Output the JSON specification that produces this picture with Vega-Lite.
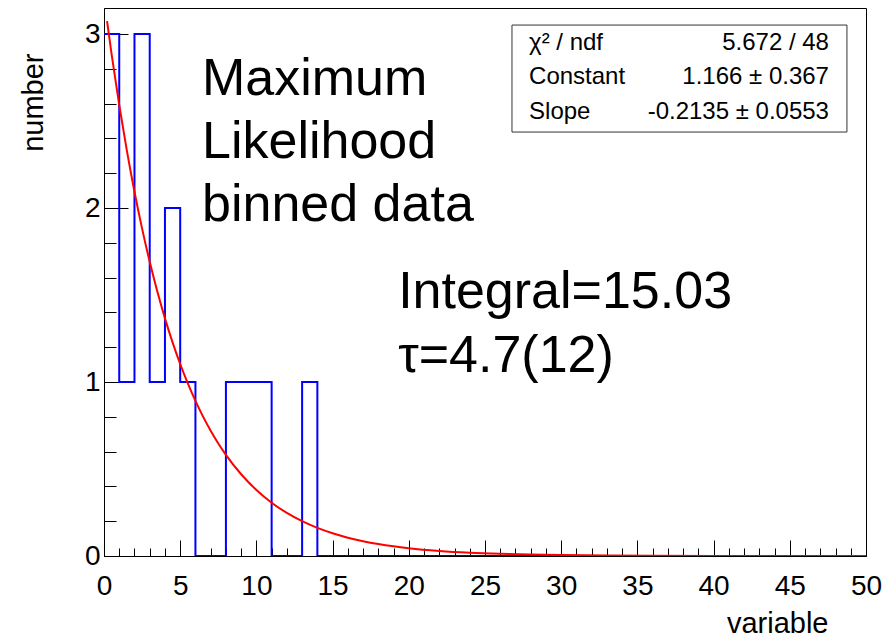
{
  "$schema": "https://vega.github.io/schema/vega-lite/v6.json",
  "width": 762,
  "height": 548,
  "autosize": {"type": "none"},
  "padding": {"left": 104, "top": 8, "right": 22, "bottom": 86},
  "background": "white",
  "config": {
    "view": {"stroke": "#000000", "strokeWidth": 1},
    "font": "Liberation Sans",
    "axis": {"domainColor": "#000000", "tickColor": "#000000", "labelColor": "#000000", "titleColor": "#000000", "labelFont": "Liberation Sans", "titleFont": "Liberation Sans", "titleFontWeight": "normal", "grid": false}
  },
  "datasets": {
    "hist": [
      {"x": 0, "y": 3}, {"x": 1, "y": 1}, {"x": 2, "y": 3}, {"x": 3, "y": 1}, {"x": 4, "y": 2},
      {"x": 5, "y": 1}, {"x": 6, "y": 0}, {"x": 7, "y": 0}, {"x": 8, "y": 1}, {"x": 9, "y": 1},
      {"x": 10, "y": 1}, {"x": 11, "y": 0}, {"x": 12, "y": 0}, {"x": 13, "y": 1}, {"x": 14, "y": 0},
      {"x": 15, "y": 0}, {"x": 16, "y": 0}, {"x": 17, "y": 0}, {"x": 18, "y": 0}, {"x": 19, "y": 0},
      {"x": 20, "y": 0}, {"x": 21, "y": 0}, {"x": 22, "y": 0}, {"x": 23, "y": 0}, {"x": 24, "y": 0},
      {"x": 25, "y": 0}, {"x": 26, "y": 0}, {"x": 27, "y": 0}, {"x": 28, "y": 0}, {"x": 29, "y": 0},
      {"x": 30, "y": 0}, {"x": 31, "y": 0}, {"x": 32, "y": 0}, {"x": 33, "y": 0}, {"x": 34, "y": 0},
      {"x": 35, "y": 0}, {"x": 36, "y": 0}, {"x": 37, "y": 0}, {"x": 38, "y": 0}, {"x": 39, "y": 0},
      {"x": 40, "y": 0}, {"x": 41, "y": 0}, {"x": 42, "y": 0}, {"x": 43, "y": 0}, {"x": 44, "y": 0},
      {"x": 45, "y": 0}, {"x": 46, "y": 0}, {"x": 47, "y": 0}, {"x": 48, "y": 0}, {"x": 49, "y": 0},
      {"x": 50, "y": 0}
    ],
    "fit": [
      {"x": 0.2, "y": 3.075}, {"x": 0.5, "y": 2.884}, {"x": 1, "y": 2.592}, {"x": 1.5, "y": 2.330}, {"x": 2, "y": 2.094},
      {"x": 2.5, "y": 1.882}, {"x": 3, "y": 1.691}, {"x": 3.5, "y": 1.520}, {"x": 4, "y": 1.366}, {"x": 4.5, "y": 1.228},
      {"x": 5, "y": 1.1035}, {"x": 5.5, "y": 0.9918}, {"x": 6, "y": 0.8914}, {"x": 6.5, "y": 0.8011}, {"x": 7, "y": 0.7200},
      {"x": 7.5, "y": 0.6471}, {"x": 8, "y": 0.5816}, {"x": 9, "y": 0.4698}, {"x": 10, "y": 0.3795}, {"x": 11, "y": 0.3065},
      {"x": 12, "y": 0.2476}, {"x": 13, "y": 0.2000}, {"x": 14, "y": 0.1615}, {"x": 15, "y": 0.1305}, {"x": 16, "y": 0.1054},
      {"x": 17, "y": 0.0851}, {"x": 18, "y": 0.0688}, {"x": 19, "y": 0.0556}, {"x": 20, "y": 0.0449}, {"x": 22, "y": 0.0293},
      {"x": 24, "y": 0.0191}, {"x": 26, "y": 0.0125}, {"x": 28, "y": 0.0081}, {"x": 30, "y": 0.0053}, {"x": 33, "y": 0.0028},
      {"x": 36, "y": 0.0015}, {"x": 40, "y": 0.0006}, {"x": 45, "y": 0.0002}, {"x": 50, "y": 0.00007}
    ],
    "note": [{"id": 1}]
  },
  "resolve": {
    "scale": {"x": "independent", "y": "independent"},
    "axis": {"x": "independent", "y": "independent"}
  },
  "layer": [
    {
      "data": {"name": "hist"},
      "mark": {"type": "line", "interpolate": "step-after", "color": "#0000ff", "strokeWidth": 2, "clip": true},
      "encoding": {
        "x": {
          "field": "x", "type": "quantitative",
          "scale": {"domain": [0, 50], "nice": false, "zero": false},
          "axis": {
            "orient": "bottom",
            "title": "variable",
            "values": [0,5,10,15,20,25,30,35,40,45,50],
            "format": "d",
            "tickSize": -16,
            "labelFontSize": 28,
            "labelPadding": 32,
            "labelOverlap": false,
            "labelFlush": false,
            "labelBound": false,
            "titleFontSize": 29,
            "titleAlign": "right",
            "titleBaseline": "alphabetic",
            "titleX": 724,
            "titleY": 76
          }
        },
        "y": {
          "field": "y", "type": "quantitative",
          "scale": {"domain": [0, 3.15], "nice": false, "zero": false},
          "axis": {
            "orient": "left",
            "title": "number",
            "values": [0,1,2,3],
            "format": "d",
            "tickSize": -24,
            "labelFontSize": 28,
            "labelPadding": 28,
            "labelOverlap": false,
            "labelFlush": false,
            "labelBound": false,
            "titleFontSize": 29,
            "titleAngle": 270,
            "titleAlign": "right",
            "titleBaseline": "alphabetic",
            "titleX": -62,
            "titleY": 45
          }
        }
      }
    },
    {
      "data": {"name": "fit"},
      "mark": {"type": "line", "interpolate": "monotone", "color": "#ff0000", "strokeWidth": 2, "clip": true},
      "encoding": {
        "x": {
          "field": "x", "type": "quantitative",
          "scale": {"domain": [0, 50], "nice": false, "zero": false},
          "axis": {
            "orient": "bottom",
            "title": null,
            "values": [0,1,2,3,4,5,6,7,8,9,10,11,12,13,14,15,16,17,18,19,20,21,22,23,24,25,26,27,28,29,30,31,32,33,34,35,36,37,38,39,40,41,42,43,44,45,46,47,48,49,50],
            "labels": false,
            "domain": false,
            "tickSize": -8
          }
        },
        "y": {
          "field": "y", "type": "quantitative",
          "scale": {"domain": [0, 3.15], "nice": false, "zero": false},
          "axis": {
            "orient": "left",
            "title": null,
            "values": [0,0.2,0.4,0.6,0.8,1,1.2,1.4,1.6,1.8,2,2.2,2.4,2.6,2.8,3],
            "labels": false,
            "domain": false,
            "tickSize": -12
          }
        }
      }
    },
    {
      "data": {"name": "note"},
      "mark": {"type": "rect", "fill": "#ffffff", "stroke": "#333333", "strokeWidth": 1},
      "encoding": {
        "x": {"datum": 26.77, "type": "quantitative", "scale": {"domain": [0, 50], "nice": false, "zero": false}, "axis": null},
        "x2": {"datum": 48.75},
        "y": {"datum": 3.052, "type": "quantitative", "scale": {"domain": [0, 3.15], "nice": false, "zero": false}, "axis": null},
        "y2": {"datum": 2.437}
      }
    },
    {
      "data": {"name": "note"},
      "mark": {"type": "text", "text": ["χ² / ndf", "Constant", "Slope"], "align": "left", "baseline": "middle", "fontSize": 24, "lineHeight": 34.5, "font": "Liberation Sans", "color": "#000000"},
      "encoding": {
        "x": {"datum": 27.89, "type": "quantitative", "scale": {"domain": [0, 50], "nice": false, "zero": false}, "axis": null},
        "y": {"datum": 2.949, "type": "quantitative", "scale": {"domain": [0, 3.15], "nice": false, "zero": false}, "axis": null}
      }
    },
    {
      "data": {"name": "note"},
      "mark": {"type": "text", "text": ["5.672 / 48", "1.166 ± 0.367", "-0.2135 ± 0.0553"], "align": "right", "baseline": "middle", "fontSize": 24, "lineHeight": 34.5, "font": "Liberation Sans", "color": "#000000"},
      "encoding": {
        "x": {"datum": 47.57, "type": "quantitative", "scale": {"domain": [0, 50], "nice": false, "zero": false}, "axis": null},
        "y": {"datum": 2.949, "type": "quantitative", "scale": {"domain": [0, 3.15], "nice": false, "zero": false}, "axis": null}
      }
    },
    {
      "data": {"name": "note"},
      "mark": {"type": "text", "text": ["Maximum", "Likelihood", "binned data"], "align": "left", "baseline": "alphabetic", "fontSize": 52, "lineHeight": 63, "font": "Liberation Sans", "color": "#000000"},
      "encoding": {
        "x": {"datum": 6.43, "type": "quantitative", "scale": {"domain": [0, 50], "nice": false, "zero": false}, "axis": null},
        "y": {"datum": 2.65, "type": "quantitative", "scale": {"domain": [0, 3.15], "nice": false, "zero": false}, "axis": null}
      }
    },
    {
      "data": {"name": "note"},
      "mark": {"type": "text", "text": ["Integral=15.03", "τ=4.7(12)"], "align": "left", "baseline": "alphabetic", "fontSize": 52, "lineHeight": 64, "font": "Liberation Sans", "color": "#000000"},
      "encoding": {
        "x": {"datum": 19.3, "type": "quantitative", "scale": {"domain": [0, 50], "nice": false, "zero": false}, "axis": null},
        "y": {"datum": 1.4255, "type": "quantitative", "scale": {"domain": [0, 3.15], "nice": false, "zero": false}, "axis": null}
      }
    }
  ]
}
